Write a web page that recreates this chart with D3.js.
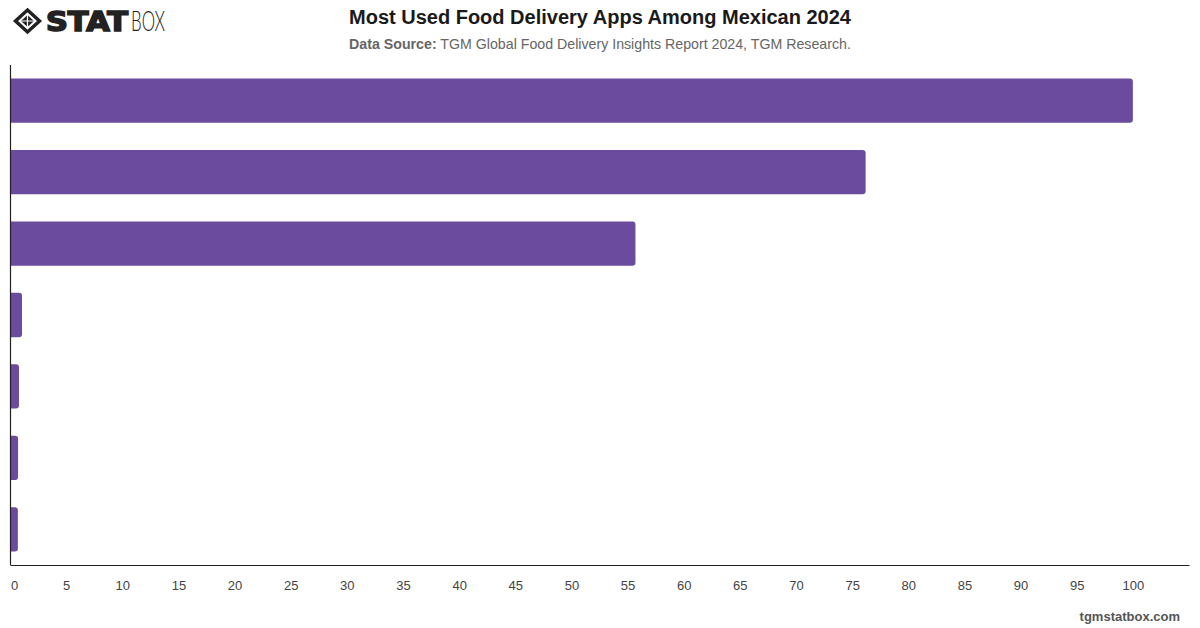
<!DOCTYPE html>
<html>
<head>
<meta charset="utf-8">
<script src="https://cdn.jsdelivr.net/npm/d3@7"></script>
<style>
  body { margin: 0; background: #fff; }
  svg { font-family: "Liberation Sans", Arial, sans-serif; }
</style>
</head>
<body>
<svg id="chart" width="1200" height="628"></svg>
<script>
// data
var apps   = ["Uber Eats", "DiDi Food", "Rappi", "Cornershop", "iFood", "Jüsto", "Other"];
var values = [100, 76.2, 55.7, 1.07, 0.8, 0.72, 0.7];
var xTicks = [0, 5, 10, 15, 20, 25, 30, 35, 40, 45, 50, 55, 60, 65, 70, 75, 80, 85, 90, 95, 100];

var svg = d3.select("#chart");

var margin = {top: 65, right: 11, bottom: 63, left: 10},
    width  = 1200 - margin.left - margin.right,
    height = 628 - margin.top - margin.bottom;

var x = d3.scaleLinear().domain([0, 105]).range([0, width]);
var y = d3.scaleBand().domain(apps).range([0, height]).paddingInner(0.38).paddingOuter(0.19);

var g = svg.append("g").attr("transform", `translate(${margin.left}, ${margin.top})`);

/* bars, rounded only on the right end */
function barPath(w, h, r) {
  r = Math.min(r, w / 2, h / 2);
  return `M0,0 H${w - r} Q${w},0 ${w},${r} V${h - r} Q${w},${h} ${w - r},${h} H0 Z`;
}

g.selectAll(".bar")
  .data(apps)
  .enter().append("path")
  .attr("class", "bar")
  .attr("transform", function(d) { return `translate(0, ${y(d)})`; })
  .attr("d", function(d, i) { return barPath(x(values[i]), y.bandwidth(), 3); })
  .style("fill", "#6a4b9d");

// axes
var xAxis = g.append("g")
  .attr("transform", `translate(0, ${height})`)
  .call(d3.axisBottom(x).tickValues(xTicks).tickSize(0).tickPadding(16));
xAxis.select(".domain").style("stroke", "#222").style("stroke-width", 1.2);
xAxis.selectAll("text")
  .style("font-size", "13px")
  .style("fill", "#444")
  .style("font-family", "'Liberation Sans', Arial, sans-serif");
xAxis.selectAll(".tick").filter(function(d) { return d === 0; })
  .select("text").attr("dx", 4);

g.append("line")
  .attr("x1", 0.5).attr("x2", 0.5)
  .attr("y1", 0).attr("y2", height)
  .style("stroke", "#222")
  .style("stroke-width", 1.2);

// title + source
svg.append("text")
  .attr("x", 600).attr("y", 24)
  .style("text-anchor", "middle")
  .style("font-size", "20px")
  .style("font-weight", "bold")
  .style("fill", "#1a1a1a")
  .text("Most Used Food Delivery Apps Among Mexican 2024");

var sub = svg.append("text")
  .attr("x", 600).attr("y", 49)
  .style("text-anchor", "middle")
  .style("font-size", "14.2px")
  .style("fill", "#666");
sub.append("tspan").style("font-weight", "bold").text("Data Source:");
sub.append("tspan").text(" TGM Global Food Delivery Insights Report 2024, TGM Research.");

svg.append("text")
  .attr("x", 1180).attr("y", 621)
  .style("text-anchor", "end")
  .style("font-size", "13px")
  .style("font-weight", "bold")
  .style("fill", "#555")
  .text("tgmstatbox.com");

// logo
var logo = svg.append("g").attr("transform", "translate(27.5, 21)");
logo.append("path")
  .attr("d", "M0,-11 L12,0 L0,11 L-12,0 Z")
  .style("fill", "none")
  .style("stroke", "#222")
  .style("stroke-width", 3.5);
logo.append("path")
  .attr("d", "M0,-6 L6.5,0 L0,6 L-6.5,0 Z")
  .style("fill", "#222");
logo.append("path")
  .attr("d", "M-7,0 H7 M0,-7 V7")
  .style("stroke", "#fff")
  .style("stroke-width", 1.2);

svg.append("text")
  .attr("x", 46).attr("y", 31)
  .style("font-family", "'DejaVu Sans', sans-serif")
  .style("font-size", "26px")
  .style("font-weight", "bold")
  .style("fill", "#222")
  .style("stroke", "#222")
  .style("stroke-width", 1.6)
  .attr("textLength", 82)
  .attr("lengthAdjust", "spacingAndGlyphs")
  .text("STAT");
svg.append("text")
  .attr("x", 131).attr("y", 31)
  .style("font-family", "Lato, 'DejaVu Sans', sans-serif")
  .style("font-size", "27px")
  .style("font-weight", 300)
  .style("fill", "#222")
  .attr("textLength", 34)
  .attr("lengthAdjust", "spacingAndGlyphs")
  .text("BOX");
</script>
</body>
</html>
